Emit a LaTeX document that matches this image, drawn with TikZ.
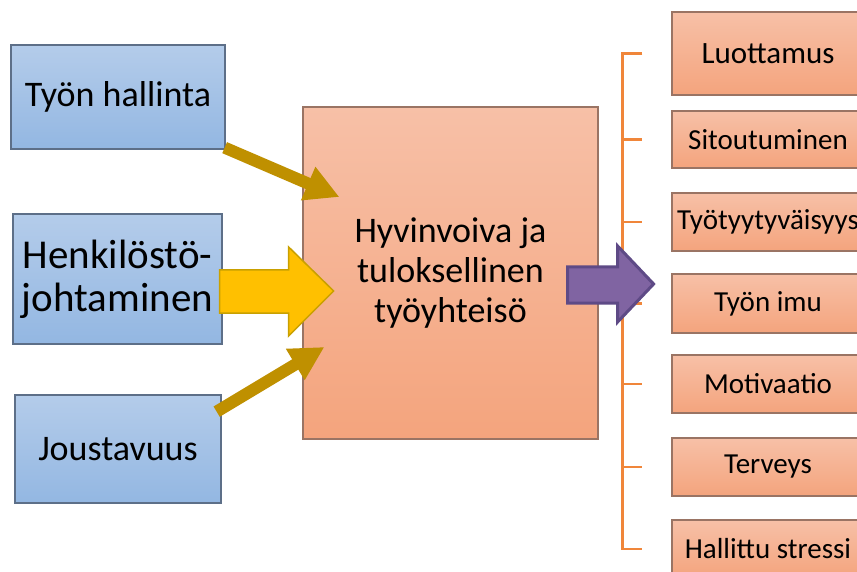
\documentclass[tikz,border=0pt]{standalone}
\usepackage{fontspec}
\setmainfont{Carlito}
\usetikzlibrary{arrows.meta}

\definecolor{bluetop}{HTML}{B4CCEA}
\definecolor{bluebot}{HTML}{93B7E2}
\definecolor{bluebd}{HTML}{5D6F88}
\definecolor{salmtop}{HTML}{F7C0A7}
\definecolor{salmbot}{HTML}{F4A47D}
\definecolor{salmbd}{HTML}{9A7464}
\definecolor{gold}{HTML}{BF9000}
\definecolor{amber}{HTML}{FFC000}
\definecolor{amberbd}{HTML}{C9A000}
\definecolor{violet}{HTML}{8064A2}
\definecolor{violetbd}{HTML}{5E4A86}
\definecolor{brkt}{HTML}{F0863A}

\tikzset{
  leftbox/.style={draw=bluebd, line width=1.3pt, top color=bluetop, bottom color=bluebot,
    inner sep=0pt, align=center, font=\fontsize{36}{40}\selectfont},
  mainbox/.style={draw=salmbd, line width=1.2pt, top color=salmtop, bottom color=salmbot,
    inner sep=0pt, align=center, font=\fontsize{36}{40}\selectfont},
  outbox/.style={draw=salmbd, line width=1.2pt, top color=salmtop, bottom color=salmbot,
    inner sep=0pt, minimum width=192pt, align=center, font=\fontsize{29}{33}\selectfont},
  goldarrow/.style={draw=gold, line width=12pt, -{Triangle[length=34pt,width=34pt]}},
  blockyellow/.style={fill=amber, draw=amberbd, line width=1.5pt, line join=miter},
  blockviolet/.style={fill=violet, draw=violetbd, line width=3pt, line join=miter},
  bracket/.style={draw=brkt, line width=2.5pt}
}

\begin{document}
\begin{tikzpicture}[x=1pt,y=-1pt]
\useasboundingbox (0,0) rectangle (857,572);
\clip (0,0) rectangle (857,572);
\fill[white] (0,0) rectangle (857,572);

% inputs
\node[leftbox, minimum width=214pt, minimum height=104pt] (th) at (118,97) {Työn hallinta};
\node[leftbox, minimum width=209pt, minimum height=130pt, font=\fontsize{41}{43}\selectfont]
  (hj) at (117.5,279) {Henkilöstö-\\johtaminen};
\node[leftbox, minimum width=206pt, minimum height=108pt] (jo) at (118,449) {Joustavuus};

% central outcome
\node[mainbox, minimum width=295pt, minimum height=332pt] (hv) at (450.5,273)
  {Hyvinvoiva ja\\tuloksellinen\\työyhteisö};

% results column
\node[outbox, minimum height=83pt, font=\fontsize{31}{35}\selectfont] (lu) at (768,53.5) {Luottamus};
\node[outbox, minimum height=57pt] (si) at (768,139.5) {Sitoutuminen};
\node[outbox, minimum height=58pt] (ty) at (768,222) {Työtyytyväisyys};
\node[outbox, minimum height=59pt] (im) at (768,303.5) {Työn imu};
\node[outbox, minimum height=58pt] (mo) at (768,384) {Motivaatio};
\node[outbox, minimum height=58pt] (te) at (768,467) {Terveys};
\node[outbox, minimum height=58pt] (hs) at (768,549) {Hallittu stressi};

% bracket grouping the results
\draw[bracket] ([xshift=-29pt]lu.west) -| ([xshift=-49pt]hs.west) -- ([xshift=-29pt]hs.west);
\foreach \b in {si,ty,im,mo,te}
  \draw[bracket] ([xshift=-49pt]\b.west) -- ([xshift=-29pt]\b.west);

% thin arrows into the central box
\coordinate (t1) at ([shift={(37,-76)}]hv.west);
\coordinate (t3) at ([shift={(22,74)}]hv.west);
\draw[goldarrow] ([shift={(-1,-2)}]th.south east) -- (t1);
\draw[goldarrow] ([shift={(-5,-92)}]jo.south east) -- (t3);

% block arrow from the middle input
\draw[blockyellow] ([xshift=-3pt]hj.east) ++(0,-9) -- ++(69,0) -- ++(0,-23) -- ++(45,44)
  -- ++(-45,45) -- ++(0,-23) -- ++(-69,0) -- cycle;

% block arrow towards the results
\draw[blockviolet] ([xshift=-31pt]hv.east) ++(0,-6) -- ++(50,0) -- ++(0,-21) -- ++(36,38)
  -- ++(-36,38) -- ++(0,-19) -- ++(-50,0) -- cycle;
\end{tikzpicture}
\end{document}
